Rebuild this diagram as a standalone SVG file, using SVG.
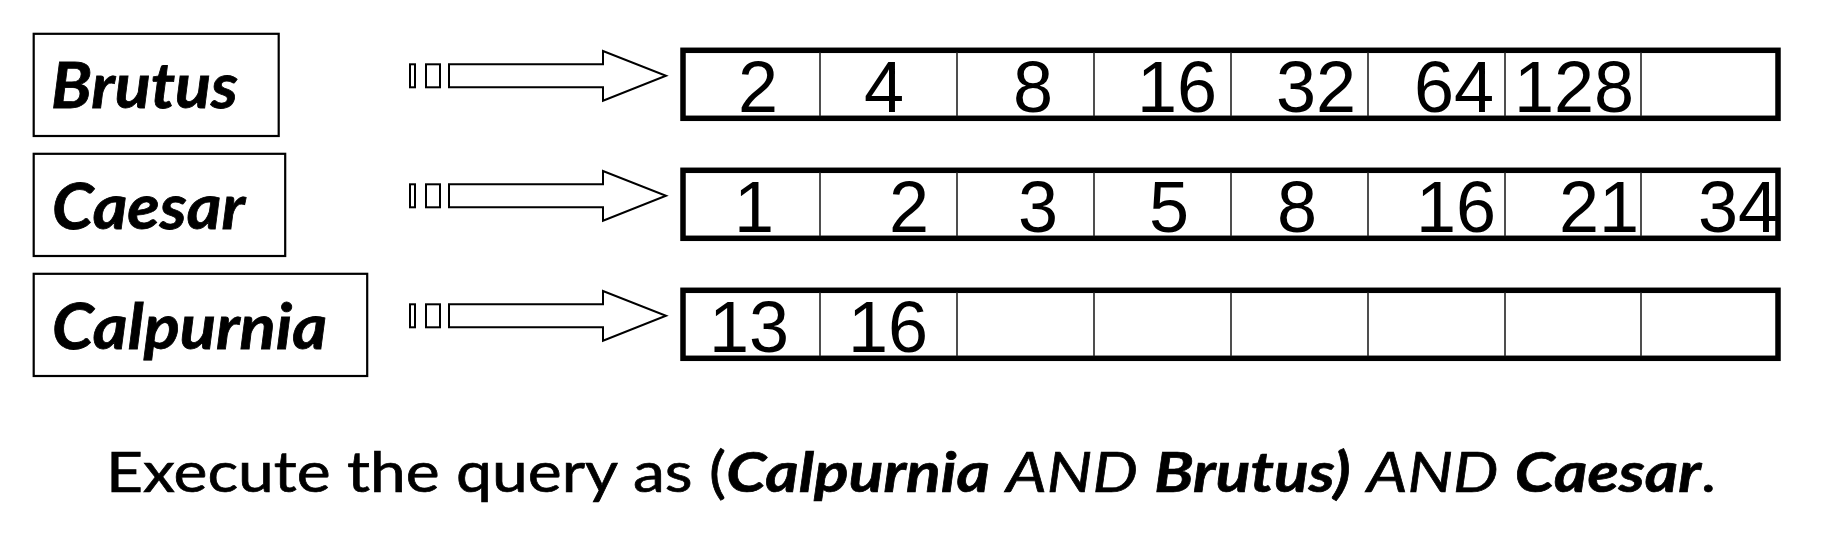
<svg xmlns="http://www.w3.org/2000/svg" width="1834" height="552" viewBox="0 0 1834 552">
<style>
.lbl{fill:#fff;stroke:#000;stroke-width:2.2}
.lt{font-family:Lato,"Open Sans","Liberation Sans",sans-serif;font-weight:bold;font-style:italic;font-size:63px;fill:#000;stroke:#000;stroke-width:0.8}
.arr{fill:#fff;stroke:#000;stroke-width:2}
.list{fill:#fff;stroke:#000;stroke-width:5.5}
.div{stroke:#222;stroke-width:1.6}
.num{font-family:"Liberation Sans",Arial,sans-serif;font-size:72px;fill:#000;text-anchor:middle}
.cap{font-family:Lato,"Open Sans","Liberation Sans",sans-serif;font-size:56px;fill:#000;stroke:#000;stroke-width:0.7}
.bi{font-weight:bold;font-style:italic}
.it{font-style:italic}
</style>
<defs>
<g id="cells">
<rect class="list" x="683" y="0" width="1095" height="68"/>
<line class="div" x1="820" y1="2" x2="820" y2="66"/>
<line class="div" x1="957" y1="2" x2="957" y2="66"/>
<line class="div" x1="1094" y1="2" x2="1094" y2="66"/>
<line class="div" x1="1231" y1="2" x2="1231" y2="66"/>
<line class="div" x1="1368" y1="2" x2="1368" y2="66"/>
<line class="div" x1="1505" y1="2" x2="1505" y2="66"/>
<line class="div" x1="1641" y1="2" x2="1641" y2="66"/>
</g>
<g id="arrow">
<rect class="arr" x="410" y="64.3" width="5" height="23"/>
<rect class="arr" x="426" y="64.3" width="14" height="23"/>
<polygon class="arr" points="449,64.3 603,64.3 603,51 666,75.8 603,100.7 603,87.3 449,87.3"/>
</g>
</defs>

<g id="term-brutus">
<rect class="lbl" x="33.7" y="33.8" width="245" height="102.2"/>
<text class="lt" x="51" y="108.3" textLength="187" lengthAdjust="spacingAndGlyphs">Brutus</text>
</g>
<g id="term-caesar">
<rect class="lbl" x="33.7" y="153.8" width="251.5" height="102.2"/>
<text class="lt" x="52" y="229.3" textLength="193" lengthAdjust="spacingAndGlyphs">Caesar</text>
</g>
<g id="term-calpurnia">
<rect class="lbl" x="33.7" y="273.8" width="333.5" height="102.2"/>
<text class="lt" x="52" y="349.3" textLength="275" lengthAdjust="spacingAndGlyphs">Calpurnia</text>
</g>

<g id="connectors">
<use href="#arrow"/>
<use href="#arrow" y="120"/>
<use href="#arrow" y="240"/>
</g>

<g id="postings-brutus">
<use href="#cells" y="50.3"/>
<text class="num" y="111.7"><tspan x="758">2</tspan><tspan x="884">4</tspan><tspan x="1033">8</tspan><tspan x="1177">16</tspan><tspan x="1316">32</tspan><tspan x="1454">64</tspan><tspan x="1574">128</tspan></text>
</g>
<g id="postings-caesar">
<use href="#cells" y="170.3"/>
<text class="num" y="232.3"><tspan x="754">1</tspan><tspan x="909">2</tspan><tspan x="1038">3</tspan><tspan x="1169">5</tspan><tspan x="1297">8</tspan><tspan x="1456">16</tspan><tspan x="1599">21</tspan><tspan x="1738">34</tspan></text>
</g>
<g id="postings-calpurnia">
<use href="#cells" y="290.3"/>
<text class="num" y="352"><tspan x="749">13</tspan><tspan x="888">16</tspan></text>
</g>

<g id="caption">
<text class="cap" x="106" y="491.7" textLength="1610" lengthAdjust="spacingAndGlyphs">Execute the query as (<tspan class="bi">Calpurnia</tspan> <tspan class="it">AND</tspan> <tspan class="bi">Brutus)</tspan> <tspan class="it">AND</tspan> <tspan class="bi">Caesar</tspan>.</text>
</g>
</svg>
